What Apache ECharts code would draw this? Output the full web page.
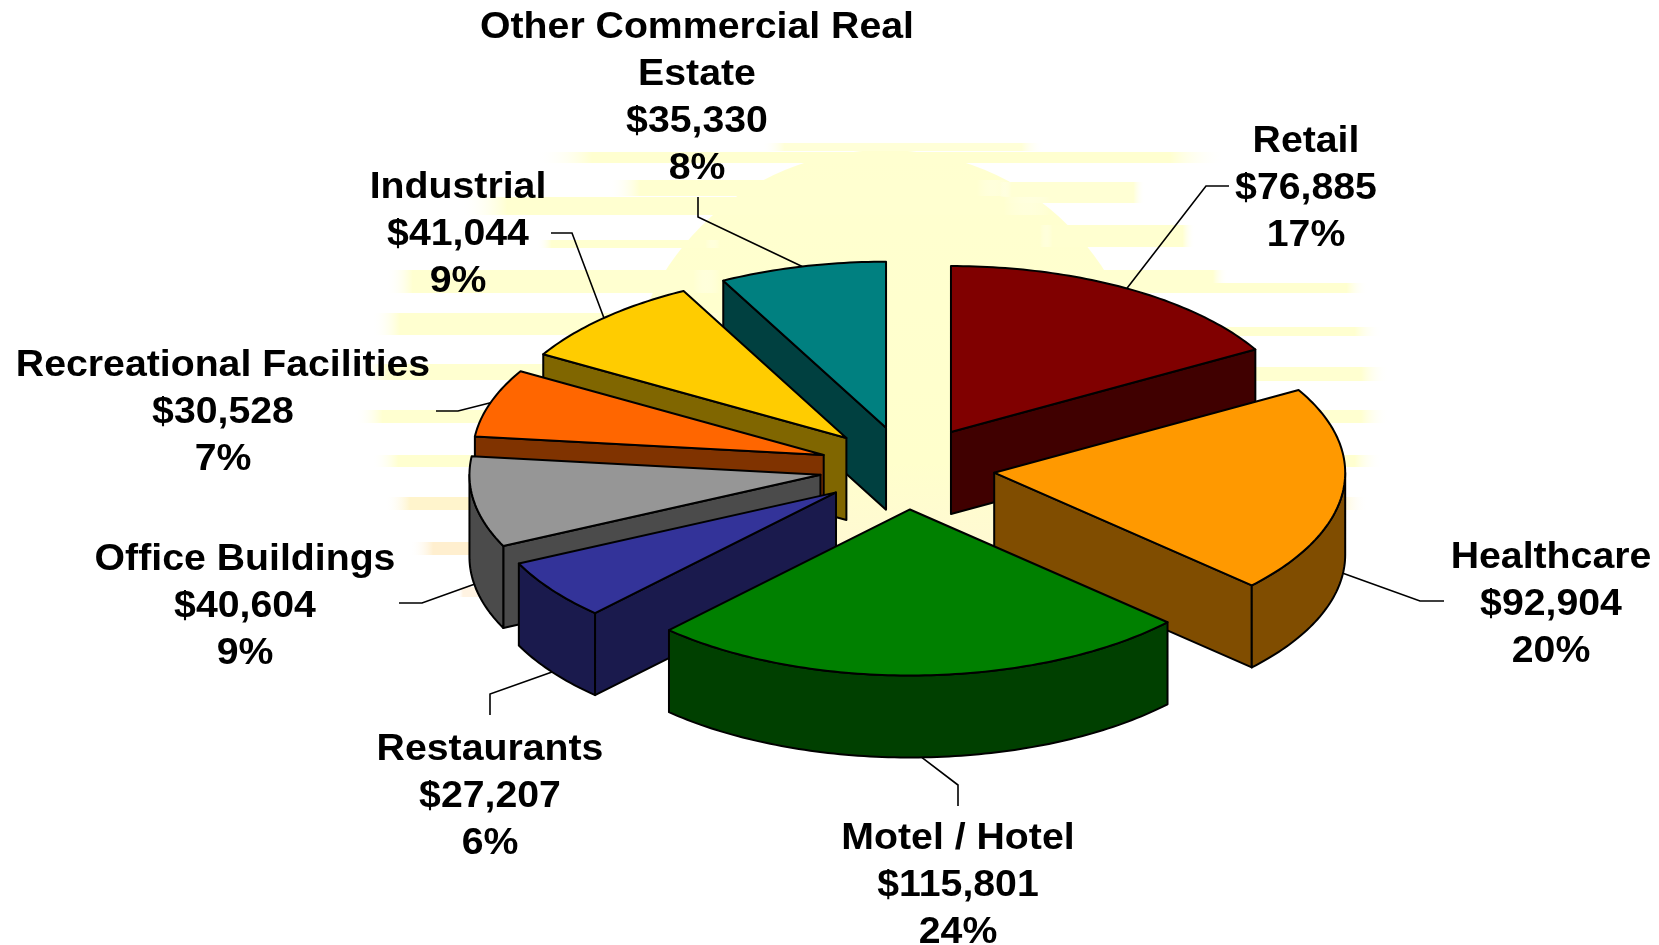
<!DOCTYPE html>
<html>
<head>
<meta charset="utf-8">
<style>html,body{margin:0;padding:0;background:#fff}#chart{width:1659px;height:945px}</style>
<script src="https://cdn.jsdelivr.net/npm/echarts@6/dist/echarts.min.js"></script>
</head>
<body>
<div id="chart"></div>
<script>
// ---- data (clockwise from 12 o'clock) ----
const categories = ['Retail', 'Healthcare', 'Motel / Hotel', 'Restaurants', 'Office Buildings', 'Recreational Facilities', 'Industrial', 'Other Commercial Real\nEstate'];
const amounts = [76885, 92904, 115801, 27207, 40604, 30528, 41044, 35330];
const percentLabels = ['17%', '20%', '24%', '6%', '9%', '7%', '9%', '8%'];
const topColors = ['#800000', '#FF9900', '#008000', '#333399', '#969696', '#FF6600', '#FFCC00', '#008080'];
const wallColors = ['#400000', '#804D00', '#004000', '#1A1A4D', '#4B4B4B', '#803300', '#806600', '#004040'];
const paintOrder = [7, 0, 6, 5, 4, 3, 1, 2];

// ---- layout ----
const pie = { cx: 907, cy: 468, a: 351, b: 166, depth: 82, explode: 0.25 };
const labelCenters = [[1306, 140], [1551, 556], [958, 837], [490, 748], [245, 558], [223, 364], [458, 186], [697, 26]];
const leaderElbows = [[1206, 186], [1420, 601], [958, 785], [490, 694], [422, 603], [458, 411], [572, 233], [698, 217]];
const leaderEnds = [[1229, 186], [1444, 601], [958, 806], [490, 715], [399, 603], [436, 411], [551, 233], [698, 197]];
const LINE_H = 47;
const LABEL_DY = 2;
const TEXT_STRETCH = 1.09;
const FONT = 'bold 36px "Liberation Sans", Arial, sans-serif';

// background glow bands: [y, height, x0, x1, colour]
const bands = [
  [143, 8, 762, 1044, '#FFFFD8'], [152, 11, 537, 1225, '#FFFFD0'], [180, 16, 608, 1009, '#FFFFD0'],
  [182, 21, 1000, 1145, '#FFFFD4'], [197, 18, 460, 1051, '#FFFFD0'], [225, 22, 1040, 1195, '#FFFFD0'],
  [240, 8, 537, 720, '#FFFFD0'], [270, 23, 386, 720, '#FFFFD0'], [270, 23, 1040, 1228, '#FFFFD0'],
  [283, 10, 1100, 1368, '#FFFFD0'], [313, 22, 372, 720, '#FFFFD0'], [327, 9, 1040, 1382, '#FFFFD0'],
  [364, 16, 360, 700, '#FFFFD0'], [367, 14, 1040, 1389, '#FFFFD0'], [410, 13, 355, 700, '#FFFFD0'],
  [410, 13, 1040, 1389, '#FFFFD0'], [455, 12, 372, 700, '#FFFFD0'], [455, 12, 1040, 1382, '#FFFFD0'],
  [497, 13, 385, 700, '#FFF4CC'], [497, 13, 1040, 1368, '#FFF8D6'], [542, 13, 410, 700, '#FFEFCF'],
  [587, 10, 458, 520, '#FFF3E2']
];

const total = amounts.reduce((s, v) => s + v, 0);
let running = 0;
const sliceRows = amounts.map((v, i) => {
  const start = running / total * 360;
  running += v;
  return { value: [v, start, running / total * 360, i], name: categories[i] };
});
const seriesData = paintOrder.map(i => sliceRows[i]);
const rad = d => d * Math.PI / 180;

function renderSlice(params, api) {
  const start = api.value(1), end = api.value(2), idx = api.value(3);
  const mid = (start + end) / 2;
  const ax = pie.cx + pie.a * pie.explode * Math.sin(rad(mid));
  const ay = pie.cy - pie.b * pie.explode * Math.cos(rad(mid));
  const rim = (t, drop) => [ax + pie.a * Math.sin(rad(t)), ay - pie.b * Math.cos(rad(t)) + (drop || 0)];
  const arc = (t0, t1) => {
    const pts = [], n = Math.max(2, Math.ceil(t1 - t0));
    for (let k = 0; k <= n; k++) pts.push(rim(t0 + (t1 - t0) * k / n));
    return pts;
  };
  const edge = { stroke: '#000', lineWidth: 2, lineJoin: 'round' };
  const poly = (points, fill) => ({ type: 'polygon', shape: { points }, style: Object.assign({ fill }, edge) });
  const children = [];

  // leader line from slice rim to the label
  const front = mid > 90 && mid < 270;
  children.push({
    type: 'polyline',
    shape: { points: [rim(mid, front ? pie.depth : 0), leaderElbows[idx], leaderEnds[idx]] },
    style: { stroke: '#000', lineWidth: 1.6, fill: null }
  });

  const wallColor = wallColors[idx], d = pie.depth;
  const radialWall = t => poly([[ax, ay], rim(t), rim(t, d), [ax, ay + d]], wallColor);
  const hasStart = Math.sin(rad(start)) < -1e-6, hasEnd = Math.sin(rad(end)) > 1e-6;
  if (hasStart) children.push(radialWall(start));
  if (hasEnd) children.push(radialWall(end));
  const w0 = Math.max(start, 90), w1 = Math.min(end, 270);
  if (w1 > w0) {
    const up = arc(w0, w1);
    const down = up.slice().reverse().map(p => [p[0], p[1] + d]);
    children.push(poly(up.concat(down), wallColor));
  }
  children.push(poly([[ax, ay]].concat(arc(start, end)), topColors[idx]));

  // label text
  const lines = categories[idx].split('\n').concat(['$' + amounts[idx].toLocaleString('en-US'), percentLabels[idx]]);
  lines.forEach((line, k) => children.push({
    type: 'text',
    x: labelCenters[idx][0],
    y: labelCenters[idx][1] + LABEL_DY + k * LINE_H,
    scaleX: TEXT_STRETCH,
    style: { text: line, x: 0, y: 0, font: FONT, fill: '#000', align: 'center', verticalAlign: 'middle' }
  }));
  return { type: 'group', children };
}

const backdrop = [{
  type: 'circle', shape: { cx: 885, cy: 410, r: 260 }, silent: true,
  style: { fill: { type: 'linear', x: 0, y: 0, x2: 0, y2: 1, colorStops: [
    { offset: 0, color: '#FFFFD0' }, { offset: 0.6, color: '#FFFFCC' }, { offset: 0.85, color: '#FFF6D6' }, { offset: 1, color: '#FFFFFF' }
  ] } }
}].concat(bands.map(b => ({
  type: 'rect', silent: true, shape: { x: b[2], y: b[0], width: b[3] - b[2], height: b[1] },
  style: { fill: { type: 'linear', x: 0, y: 0, x2: 1, y2: 0, colorStops: [
    { offset: 0, color: 'rgba(255,255,255,0)' }, { offset: 0.08, color: b[4] },
    { offset: 0.92, color: b[4] }, { offset: 1, color: 'rgba(255,255,255,0)' }
  ] } }
})));

const chart = echarts.init(document.getElementById('chart'), null, { renderer: 'canvas' });
chart.setOption({
  animation: false,
  backgroundColor: '#ffffff',
  graphic: { elements: backdrop },
  series: [{
    type: 'custom',
    coordinateSystem: 'none',
    renderItem: renderSlice,
    data: seriesData,
    silent: true
  }]
});
</script>
</body>
</html>
